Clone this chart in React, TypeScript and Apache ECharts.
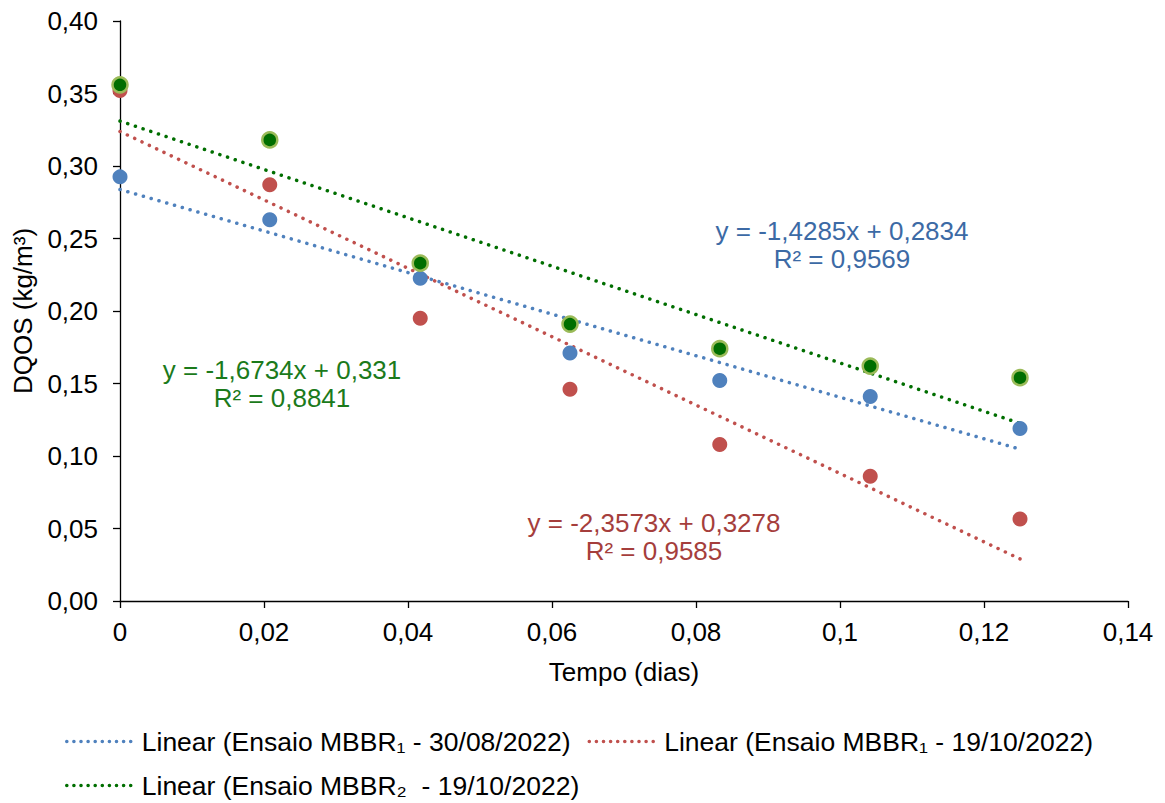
import React, { useEffect, useRef } from "react";
import * as echarts from "echarts";

const timeDays = [0, 0.0208, 0.0417, 0.0625, 0.0833, 0.1042, 0.125];
const mbbr1Aug = [0.2925, 0.263, 0.2225, 0.171, 0.152, 0.141, 0.119];
const mbbr1Oct = [0.352, 0.287, 0.195, 0.146, 0.108, 0.086, 0.0565];
const mbbr2Oct = [0.356, 0.318, 0.233, 0.191, 0.174, 0.162, 0.154];

// trendline endpoints (x = 0 and x = 0.125)
const trendX = [0, 0.125];
const trend1Aug = [0.2838, 0.1047];
const trend1Oct = [0.3238, 0.029];
const trend2Oct = [0.331, 0.1225];

const legendNames = [
  "Linear (Ensaio MBBR\u2081 - 30/08/2022)",
  "Linear (Ensaio MBBR\u2081 - 19/10/2022)",
  "Linear (Ensaio MBBR\u2082  - 19/10/2022)",
];

const FONT = "'Liberation Sans', Arial, sans-serif";
const BLUE = "#4F81BD";
const RED = "#C0504D";
const GREEN = "#006E00";

const pairs = (xs: number[], ys: number[]) => xs.map((x, i) => [x, ys[i]]);

export default function App() {
  const ref = useRef<HTMLDivElement>(null);
  useEffect(() => {
    document.body.style.margin = "0";
    const chart = echarts.init(ref.current!, undefined, { renderer: "svg" });
    const dotted = (color: string) => ({
      color,
      width: 3.5,
      type: [0.1, 8] as any,
      cap: "round" as const,
    });
    const trend = (name: string, ys: number[], color: string) => ({
      type: "line",
      name,
      data: pairs(trendX, ys),
      symbol: "none",
      lineStyle: dotted(color),
      itemStyle: { color, opacity: 0 },
      z: 2,
    });
    const scatter = (name: string, ys: number[], color: string, border?: string) => ({
      type: "scatter",
      name,
      data: pairs(timeDays, ys),
      symbolSize: 15,
      itemStyle: border
        ? { color, borderColor: border, borderWidth: 2.5, opacity: 1 }
        : { color, opacity: 1 },
      z: 3,
    });
    const annotation = (x: number, y: number, lines: string[], color: string) => ({
      type: "group",
      children: lines.map((t, i) => ({
        type: "text",
        x,
        y: y + i * 28,
        style: {
          text: t,
          fill: color,
          font: `26px ${FONT}`,
          align: "center",
          verticalAlign: "middle",
        },
      })),
    });
    chart.setOption({
      animation: false,
      textStyle: { fontFamily: FONT },
      grid: { left: 120, right: 37, top: 21, bottom: 202 },
      xAxis: {
        type: "value",
        min: 0,
        max: 0.14,
        interval: 0.02,
        name: "Tempo (dias)",
        nameLocation: "middle",
        nameGap: 58,
        nameTextStyle: { fontSize: 26, color: "#000", fontFamily: FONT },
        splitLine: { show: false },
        axisLine: { lineStyle: { color: "#000", width: 1.3 } },
        axisTick: { show: true, length: 7, lineStyle: { color: "#000", width: 1.3 } },
        axisLabel: {
          fontSize: 26,
          color: "#000",
          margin: 18,
          fontFamily: FONT,
          formatter: (v: number) => String(Number(v.toFixed(2))).replace(".", ","),
        },
      },
      yAxis: {
        type: "value",
        min: 0,
        max: 0.4,
        interval: 0.05,
        name: "DQOS (kg/m\u00B3)",
        nameLocation: "middle",
        nameGap: 82,
        nameTextStyle: { fontSize: 26, color: "#000", fontFamily: FONT },
        splitLine: { show: false },
        axisLine: { show: true, lineStyle: { color: "#000", width: 1.3 } },
        axisTick: { show: true, length: 7, lineStyle: { color: "#000", width: 1.3 } },
        axisLabel: {
          fontSize: 26,
          color: "#000",
          margin: 22,
          fontFamily: FONT,
          formatter: (v: number) => v.toFixed(2).replace(".", ","),
        },
      },
      legend: {
        data: legendNames,
        left: 60,
        top: 723,
        width: 1080,
        itemWidth: 70,
        itemHeight: 14,
        itemGap: 17,
        itemStyle: { opacity: 0 },
        lineStyle: { width: 3.5, type: [0.1, 7] as any, cap: "round" },
        textStyle: {
          fontSize: 26.5,
          color: "#000",
          fontFamily: FONT,
          lineHeight: 24,
        },
      },
      series: [
        trend(legendNames[0], trend1Aug, BLUE),
        trend(legendNames[1], trend1Oct, RED),
        trend(legendNames[2], trend2Oct, GREEN),
        scatter("MBBR1 30/08/2022", mbbr1Aug, BLUE),
        scatter("MBBR1 19/10/2022", mbbr1Oct, RED),
        scatter("MBBR2 19/10/2022", mbbr2Oct, GREEN, "#9BBB59"),
      ],
      graphic: [
        annotation(842, 231, ["y = -1,4285x + 0,2834", "R\u00B2 = 0,9569"], "#3C6AA5"),
        annotation(282, 370, ["y = -1,6734x + 0,331", "R\u00B2 = 0,8841"], "#1B7A1B"),
        annotation(654, 523, ["y = -2,3573x + 0,3278", "R\u00B2 = 0,9585"], "#A53E3C"),
      ],
    });
    return () => chart.dispose();
  }, []);
  return <div ref={ref} style={{ width: 1165, height: 803 }} />;
}
